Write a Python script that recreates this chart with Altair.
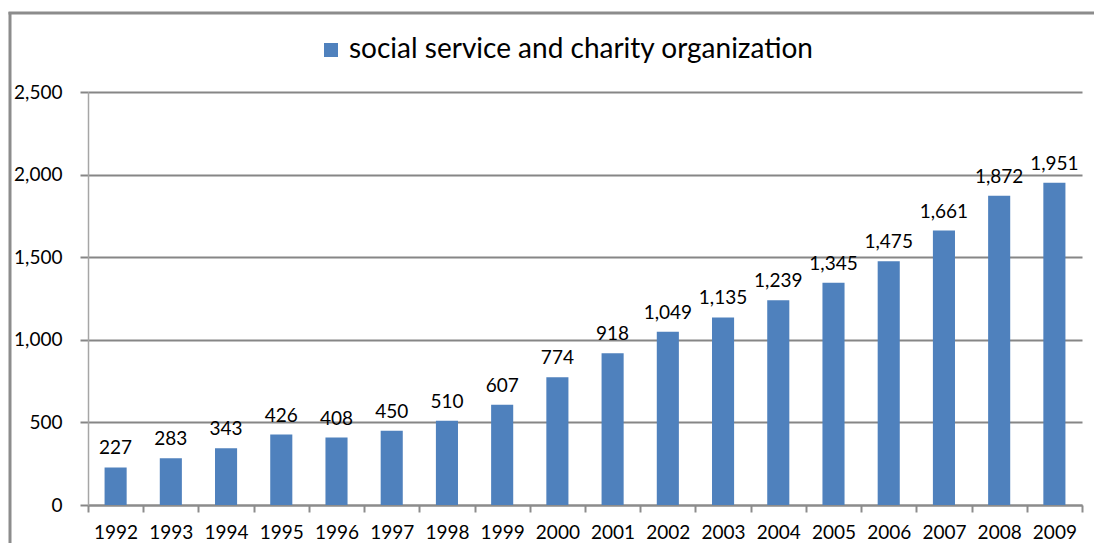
import altair as alt
import pandas as pd

years = [str(y) for y in range(1992, 2010)]
values = [227, 283, 343, 426, 408, 450, 510, 607, 774, 918,
          1049, 1135, 1239, 1345, 1475, 1661, 1872, 1951]
series_name = "social service and charity organization"
y_ticks = [0, 500, 1000, 1500, 2000, 2500]

df = pd.DataFrame({"year": years, "value": values, "series": [series_name] * len(years)})

FONT = "Lato"
BAR = "#4f81bd"
GRID = "#868686"

x_enc = alt.X("year:N", sort=years, title=None,
              scale=alt.Scale(paddingInner=0, paddingOuter=0),
              axis=alt.Axis(labelAngle=0, tickBand="extent", tickSize=7, tickWidth=2,
                            tickColor="#8c8c8c", domainColor="#8c8c8c", domainWidth=2,
                            labelFontSize=19, labelFont=FONT, labelColor="#000000",
                            labelPadding=11, grid=False))
y_enc = alt.Y("value:Q", title=None,
              scale=alt.Scale(domain=[0, 2500], nice=False),
              axis=alt.Axis(values=y_ticks, labelExpr="format(datum.value, ',')",
                            grid=True, gridColor=GRID, gridWidth=2,
                            tickColor=GRID, tickWidth=2, tickSize=8, domainColor="#a6a6a6",
                            domainWidth=1.5, labelFontSize=19, labelFont=FONT,
                            labelColor="#000000", labelPadding=18))

bars = alt.Chart(df).mark_bar(width={"band": 0.4}, color=BAR).encode(
    x=x_enc,
    y=y_enc,
    color=alt.Color("series:N", title=None,
                    scale=alt.Scale(domain=[series_name], range=[BAR]),
                    legend=alt.Legend(orient="none", legendX=229, legendY=-56,
                                      symbolType="square", symbolSize=196,
                                      symbolStrokeWidth=0, labelFontSize=28,
                                      labelFont=FONT, labelColor="#000000",
                                      labelLimit=800, labelOffset=4, padding=0)),
)

labels = alt.Chart(df).mark_text(baseline="alphabetic", dy=-13, fontSize=19,
                                 font=FONT, color="#000000").encode(
    x=alt.X("year:N", sort=years),
    y="value:Q",
    text=alt.Text("value:Q", format=","),
)

frame_df = pd.DataFrame({"a": [0]})
frame_v = alt.Chart(frame_df).mark_rule(color="#8c8c8c", strokeWidth=3).encode(
    x=alt.value(-78), y=alt.value(-80), y2=alt.value(470))
frame_h = alt.Chart(frame_df).mark_rule(color="#8c8c8c", strokeWidth=3).encode(
    x=alt.value(-79.5), x2=alt.value(1040), y=alt.value(-79))

chart = alt.layer(bars, labels, frame_v, frame_h).properties(
    width=994, height=413,
    autosize="none",
    padding={"left": 80, "top": 84, "right": 12, "bottom": 38},
).configure_view(stroke=None)

chart.save("out.html", embed_options={"renderer": "svg", "actions": False})
